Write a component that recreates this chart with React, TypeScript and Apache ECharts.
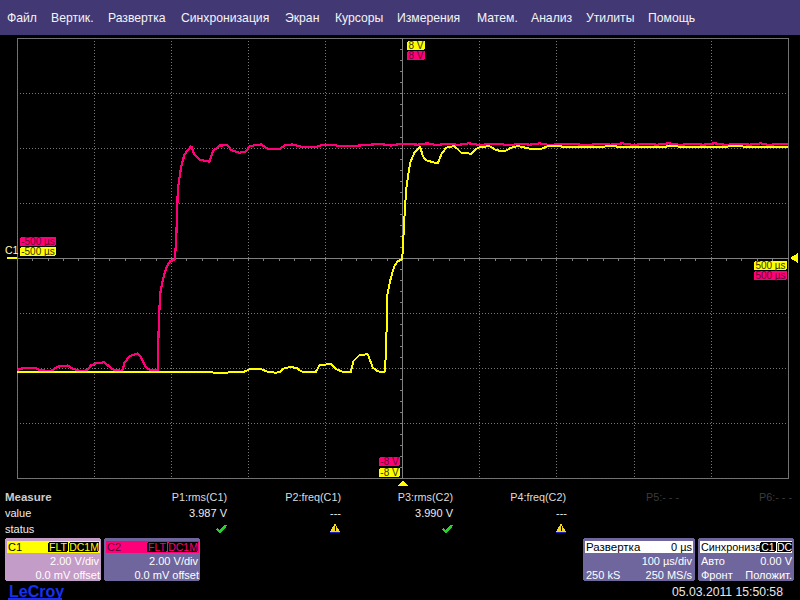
import React, { useEffect, useRef } from "react";
import * as echarts from "echarts";

// Time in microseconds, level in volts
const c2Trace: [number, number][] = [
  [-500,-4.08],[-496.8,-4.03],[-486.4,-3.99],[-477.3,-3.99],[-470.8,-4.07],[-457.9,-4.12],[-454.3,-4.08],[-447.1,-3.95],[-434.1,-3.91],[-427.6,-4.03],
  [-416.7,-4.12],[-409.5,-4.08],[-403.8,-3.9],[-397.3,-3.83],[-386.5,-3.79],[-380,-3.96],[-373.5,-4.08],[-363.6,-4.1],[-360.6,-3.81],[-354.1,-3.57],
  [-343.3,-3.47],[-338.9,-3.63],[-332.4,-3.99],[-325.9,-4.08],[-317.4,-4.08],[-316.5,-2.78],[-314.5,-1.33],[-310.9,-0.81],[-308.3,-0.53],[-305.7,-0.3],
  [-301.3,-0.12],[-295.3,-0.05],[-294.4,0.31],[-293.5,0.67],[-291.4,2.49],[-289.2,2.93],[-287,3.34],[-282.8,3.76],[-274.1,4.07],[-269.8,3.76],
  [-263.3,3.58],[-250.3,3.5],[-246,3.88],[-237.4,4.09],[-226.6,4.1],[-222.2,3.92],[-211.4,3.83],[-202.7,3.88],[-198.4,4.07],[-183.3,4.13],
  [-174.7,3.97],[-159.5,3.95],[-153,4.09],[-142.7,4.13],[-129.7,4.03],[-111.9,4.04],[-105.4,4.1],[-90.8,4.12],[-81.7,4.07],[-68.7,4.07],
  [-50,4.1],[-30,4.15],[-15,4.09],[0,4.16],[20,4.12],[32,4.17],[44,4.11],[60,4.16],[72,4.11],[86,4.17],
  [100,4.11],[120,4.16],[140,4.1],[152,4.16],[165,4.12],[178,4.17],[190,4.11],[215,4.16],[240,4.1],[255,4.16],
  [270,4.12],[285,4.17],[300,4.11],[315,4.16],[330,4.12],[345,4.17],[360,4.11],[375,4.16],[390,4.12],[405,4.17],
  [420,4.11],[435,4.16],[450,4.12],[465,4.17],[475,4.11],[490,4.16],[500,4.13],
];
const c1Trace: [number, number][] = [
  [-500,-4.15],[-420,-4.14],[-330,-4.16],[-280,-4.15],[-230,-4.17],[-204.9,-4.13],[-198.4,-4.05],[-182.9,-4.05],[-175.1,-4.13],[-164.7,-4.17],
  [-159.5,-4.15],[-155.3,-4.03],[-146.6,-3.97],[-137.9,-3.99],[-131.4,-4.12],[-122.8,-4.16],[-112.8,-4.16],[-107.7,-3.91],[-92.5,-3.84],[-86.9,-4.03],
  [-77.4,-4.14],[-67.1,-4.15],[-63.6,-3.75],[-55.8,-3.53],[-45,-3.5],[-38.5,-3.99],[-32,-4.12],[-23.3,-4.16],[-22,-3.69],[-20.8,-2.78],
  [-19.5,-1.33],[-15.8,-0.81],[-13.2,-0.53],[-10.6,-0.3],[-6.1,-0.12],[-0.6,-0.05],[0.6,0.31],[1.9,1.22],[4.8,2.49],[6.9,2.93],
  [10,3.47],[15.6,3.84],[23,4.04],[26.3,3.7],[30.7,3.55],[45.8,3.44],[50.2,3.76],[56.7,4.01],[67.4,4.07],[76.1,3.83],
  [89.1,3.79],[97.7,4.01],[112.8,4.07],[121.5,3.92],[132.3,3.88],[141,4.01],[149.5,4.07],[164.7,3.98],[179.9,3.97],[188.5,4.07],
  [233.5,4.03],[270,4.06],[310,4.03],[350,4.06],[390,4.03],[430,4.06],[470,4.04],[500,4.05],
];

const menuItems: [string, number][] = [
  ["Файл",7],["Вертик.",51],["Развертка",108],["Синхронизация",181],["Экран",285],["Курсоры",335],
  ["Измерения",397],["Матем.",477],["Анализ",531],["Утилиты",586],["Помощь",648],
];
const measureHeads: [string, number, string][] = [
  ["P1:rms(C1)",227,"#dddddd"],["P2:freq(C1)",341,"#dddddd"],["P3:rms(C2)",453,"#dddddd"],
  ["P4:freq(C2)",566,"#dddddd"],["P5:- - -",679,"#3c3c3c"],["P6:- - -",792,"#3c3c3c"],
];
const measureValues: [string, number][] = [["3.987 V",227],["---",341],["3.990 V",453],["---",567]];
const checkColumns = [217, 443];
const warnColumns = [335, 561];

const YEL = "#ffff00";
const PNK = "#ff0078";
const FONT = "Liberation Sans";

function txt(x: number, y: number, text: string, fill: string, size = 11.5, align = "left", weight = "normal"): any {
  return { type: "text", x, y, z: 20, silent: true, style: { text, fill, align, verticalAlign: "middle", font: `${weight} ${size}px "${FONT}"` } };
}
function box(x: number, y: number, width: number, height: number, fill: string, r = 0, z = 10): any {
  return { type: "rect", z, silent: true, shape: { x, y, width, height, r }, style: { fill } };
}
function tag(x: number, y: number, w: number, text: string, bg: string, fg: string): any[] {
  return [box(x, y, w, 9, bg, 2), txt(x + w / 2, y + 4.8, text, fg, 10, "center")];
}
function poly(points: number[][], fill: string): any {
  return { type: "polygon", z: 15, silent: true, shape: { points }, style: { fill } };
}
function check(x: number, y: number): any {
  return { type: "polyline", z: 15, silent: true, shape: { points: [[x, y + 4], [x + 3, y + 7], [x + 9, y]] }, style: { stroke: "#28d02c", lineWidth: 2.6, fill: "none" } };
}
function warn(x: number, y: number): any[] {
  return [
    poly([[x, y - 5], [x + 5, y + 4], [x - 5, y + 4]], "#f5d820"),
    box(x - 0.5, y - 2.5, 1.2, 4, "#000000", 0, 16),
    box(x - 0.5, y + 2.4, 1.2, 1, "#000000", 0, 16),
    box(x - 5, y + 4, 10, 1, "#2020c0", 0, 16),
  ];
}
function pill(x: number, w: number, y: number, text: string, fg: string): any[] {
  return [box(x, y, w, 10, "#000000", 2, 12), txt(x + w / 2, y + 5.3, text, fg, 10.5, "center")];
}

function buildGraphics(): any[] {
  const g: any[] = [];
  g.push(box(0, 0, 800, 35, "#423874"));
  menuItems.forEach(([t, x]) => g.push(txt(x, 18, t, "#f4f4f4", 12.2)));

  // cursor and trigger tags
  g.push(...tag(407, 41, 18, "8 V", YEL, "#333300"), ...tag(407, 51, 18, "8 V", PNK, "#660030"));
  g.push(...tag(20, 237, 36, "-500 µs", PNK, "#660030"), ...tag(20, 247, 36, "-500 µs", YEL, "#333300"));
  g.push(...tag(754, 261, 33, "500 µs", YEL, "#333300"), ...tag(754, 271, 33, "500 µs", PNK, "#660030"));
  g.push(...tag(379, 457, 21, "-8 V", PNK, "#660030"), ...tag(379, 468, 21, "-8 V", YEL, "#333300"));
  g.push(txt(5, 250, "C1", "#ffffb0", 10.5));
  g.push(box(7, 257, 10, 2, YEL));
  g.push(poly([[403, 480], [408, 486], [398, 486]], YEL));
  g.push(poly([[790, 258], [798, 253], [798, 263]], YEL));

  // measure table
  g.push(txt(5, 497, "Measure", "#cccccc", 11.5, "left", "bold"));
  g.push(txt(5, 513, "value", "#eeeeee", 11), txt(5, 529, "status", "#eeeeee", 11));
  measureHeads.forEach(([t, x, c]) => g.push(txt(x, 497, t, c, 10.8, "right")));
  measureValues.forEach(([t, x]) => g.push(txt(x, 513, t, "#eeeeee", 11, "right")));
  checkColumns.forEach((x) => g.push(check(x, 525)));
  warnColumns.forEach((x) => g.push(...warn(x, 528)));

  // channel panels
  g.push(box(5, 538, 96, 43, "#c49cc8", 3), box(7, 541, 93, 12, YEL));
  g.push(txt(8, 547, "C1", "#000000", 11), ...pill(48, 20, 542, "FLT", YEL), ...pill(69, 30, 542, "DC1M", YEL));
  g.push(txt(99, 560.5, "2.00 V/div", "#ffffff", 11, "right"), txt(100, 574.5, "0.0 mV offset", "#ffffff", 11, "right"));
  g.push(box(104, 538, 96, 43, "#6e669c", 3), box(106, 541, 93, 12, PNK));
  g.push(txt(107, 547, "C2", "#500028", 11), ...pill(147, 20, 542, "FLT", PNK), ...pill(168, 30, 542, "DC1M", PNK));
  g.push(txt(198, 560.5, "2.00 V/div", "#ffffff", 11, "right"), txt(199, 574.5, "0.0 mV offset", "#ffffff", 11, "right"));

  // timebase and trigger panels
  g.push(box(583, 538, 112, 43, "#6e669c", 3), box(585, 541, 108, 12, "#ffffff"));
  g.push(txt(586, 547, "Развертка", "#000000", 11.5), txt(692, 547, "0 µs", "#000000", 11, "right"));
  g.push(txt(692, 560.5, "100 µs/div", "#ffffff", 11, "right"));
  g.push(txt(586, 574.5, "250 kS", "#ffffff", 11), txt(692, 574.5, "250 MS/s", "#ffffff", 11, "right"));
  g.push(box(698, 538, 96, 43, "#6e669c", 3), box(700, 541, 92, 12, "#ffffff"));
  g.push(txt(701, 547, "Синхрониза", "#000000", 10.8));
  g.push(...pill(760, 16, 542, "C1", "#ffffff"), ...pill(777, 15, 542, "DC", "#ffffff"));
  g.push(txt(701, 560.5, "Авто", "#ffffff", 11), txt(792, 560.5, "0.00 V", "#ffffff", 11, "right"));
  g.push(txt(701, 574.5, "Фронт", "#ffffff", 11), txt(792, 574.5, "Положит.", "#ffffff", 11, "right"));

  g.push(txt(672, 592, "05.03.2011 15:50:58", "#e8e8e8", 12.2));
  g.push(txt(9, 591, "LeCroy", "#1830f0", 16, "left", "bold"), box(8, 598, 54, 1.6, "#1830f0"));
  return g;
}

const hiddenLabel = { show: false };
const centerLine = { show: true, onZero: true, lineStyle: { color: "#808080", width: 1 } };
const dotted = { show: true, lineStyle: { color: "#777777", width: 1, type: [1, 2] as any } };

function axisCommon(min: number, max: number, interval: number, inside: boolean, split: boolean): any {
  return {
    type: "value", min, max, interval,
    axisLabel: hiddenLabel, axisLine: centerLine,
    axisTick: { show: true, inside, length: 3, lineStyle: { color: "#808080" } },
    minorTick: { show: true, splitNumber: 5, length: 3, lineStyle: { color: "#808080" } },
    splitLine: split ? dotted : { show: false },
  };
}

export default function App() {
  const ref = useRef<HTMLDivElement>(null);
  useEffect(() => {
    const chart = echarts.init(ref.current!, undefined, { renderer: "svg" });
    chart.setOption({
      animation: false,
      backgroundColor: "#000000",
      grid: { left: 17, top: 38, width: 771, height: 440, show: true, borderColor: "#707070", borderWidth: 1, backgroundColor: "#000000" },
      xAxis: [axisCommon(-500, 500, 100, false, true), axisCommon(-500, 500, 100, true, false)],
      yAxis: [axisCommon(-8, 8, 2, false, true), axisCommon(-8, 8, 2, true, false)],
      series: [
        { name: "C2", type: "line", data: c2Trace, showSymbol: false, clip: true, lineStyle: { color: PNK, width: 2.2 }, z: 3 },
        { name: "C1", type: "line", data: c1Trace, showSymbol: false, clip: true, lineStyle: { color: YEL, width: 2 }, z: 4 },
      ],
      graphic: { elements: buildGraphics() },
    });
    return () => chart.dispose();
  }, []);
  return (
    <>
      <style>{`svg path { shape-rendering: crispEdges; }`}</style>
      <div ref={ref} style={{ position: "absolute", left: 0, top: 0, width: 800, height: 600, background: "#000" }} />
    </>
  );
}
